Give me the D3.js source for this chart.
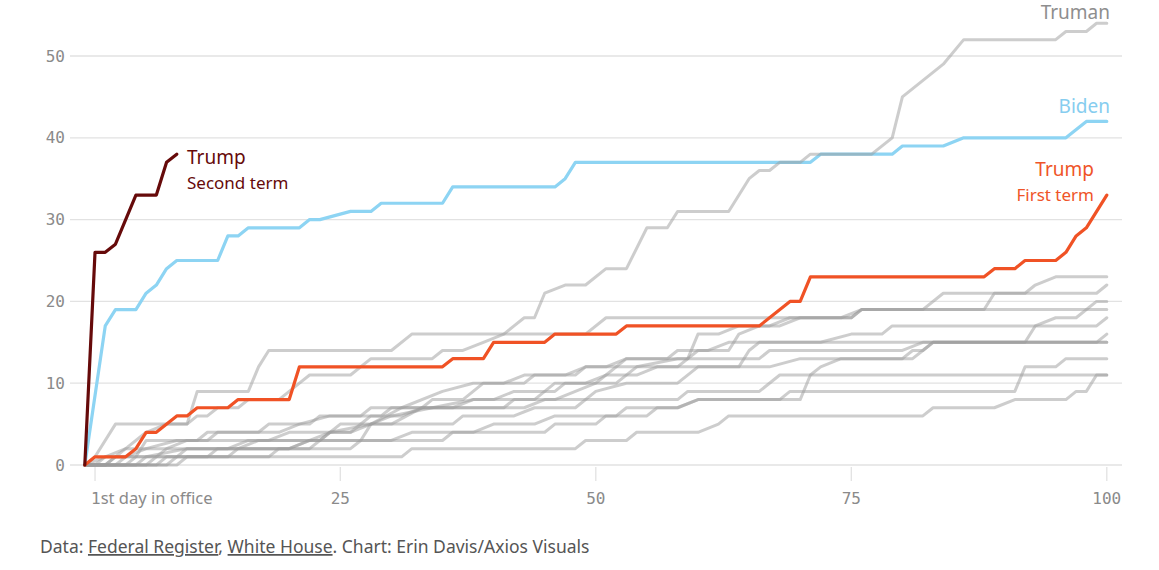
<!DOCTYPE html>
<html><head><meta charset="utf-8">
<script src="https://cdn.jsdelivr.net/npm/d3@7"></script>
<style>
body{margin:0;background:#fff;}
svg{display:block}
</style>
</head><body>
<svg id="chart" width="1159" height="570"></svg>
<script>
// ---- data: [day in office, cumulative executive orders] ----
const yTicks = [0, 10, 20, 30, 40, 50];
const xTicks = [1, 25, 50, 75, 100];
const xTickLabels = ["1st day in office", "25", "50", "75", "100"];

const truman = [[0,0],[2,1],[4,2],[6,4],[8,5],[10,5],[11,6],[12,6],[13,7],[15,7],[16,8],[19,8],[20,9],[21,10],[22,11],[26,11],[28,13],[34,13],[35,14],[37,14],[39,15],[41,16],[42,17],[43,18],[44,18],[45,21],[47,22],[49,22],[51,24],[53,24],[55,29],[57,29],[58,31],[63,31],[65,35],[66,36],[67,36],[68,37],[70,37],[71,38],[77,38],[79,40],[80,45],[84,49],[86,52],[95,52],[96,53],[98,53],[99,54],[100,54]];
const otherA = [[0,0],[1,1],[3,5],[10,5],[11,9],[16,9],[17,12],[18,14],[30,14],[32,16],[49,16],[51,18],[75,18],[76,19],[82,19],[84,21],[92,21],[93,22],[95,23],[100,23]];
const otherB = [[0,0],[2,0],[3,1],[7,1],[8,2],[20,2],[22,3],[27,3],[28,5],[30,6],[34,7],[38,8],[44,8],[46,10],[52,10],[54,12],[58,13],[59,13],[60,16],[62,16],[64,17],[67,17],[69,18],[74,18],[76,19],[88,19],[89,21],[99,21],[100,22]];
const otherC = [[0,0],[4,0],[5,1],[9,1],[10,2],[14,2],[16,3],[23,3],[25,5],[30,5],[33,7],[41,7],[42,8],[46,8],[48,9],[50,10],[51,11],[52,12],[53,13],[57,13],[58,14],[61,14],[63,15],[92,15],[93,17],[95,18],[97,18],[99,20],[100,20]];
const otherD = [[0,0],[6,0],[7,1],[12,1],[13,2],[22,2],[24,4],[26,4],[28,5],[36,5],[37,6],[42,6],[44,7],[48,7],[50,9],[53,10],[58,10],[60,12],[64,12],[65,14],[66,15],[72,15],[75,16],[78,16],[79,17],[99,17],[100,18]];
const otherE = [[0,0],[3,0],[4,1],[6,2],[9,3],[11,3],[12,4],[19,4],[21,5],[24,6],[29,6],[30,7],[36,7],[38,8],[40,8],[42,9],[46,9],[47,10],[49,10],[51,11],[54,11],[56,12],[58,12],[60,14],[63,14],[64,16],[66,17],[68,17],[70,18],[75,18],[76,19],[100,19]];
const otherF = [[0,0],[5,0],[6,1],[10,2],[15,2],[17,3],[22,3],[24,4],[28,5],[31,7],[35,9],[38,10],[43,10],[44,11],[48,11],[49,12],[67,12],[70,13],[81,13],[82,14],[83,15],[99,15],[100,16]];
const otherG = [[0,0],[7,0],[8,1],[14,1],[15,2],[20,2],[22,3],[30,3],[32,4],[38,4],[40,5],[44,5],[46,6],[52,6],[53,7],[58,7],[60,8],[70,8],[71,11],[72,12],[74,13],[80,13],[81,14],[82,14],[83,15],[100,15]];
const otherH = [[0,0],[9,0],[10,1],[18,1],[19,2],[26,2],[27,3],[35,3],[36,4],[45,4],[46,5],[50,5],[51,6],[55,6],[56,7],[58,7],[60,8],[68,8],[69,9],[91,9],[92,12],[95,12],[96,13],[100,13]];
const otherI = [[0,0],[2,0],[4,2],[8,2],[10,3],[18,3],[20,4],[26,4],[28,6],[31,6],[33,7],[43,7],[45,8],[58,8],[59,9],[66,9],[68,11],[100,11]];
const otherJ = [[0,0],[8,0],[9,1],[31,1],[32,2],[48,2],[49,3],[53,3],[54,4],[60,4],[62,5],[63,6],[82,6],[83,7],[89,7],[91,8],[96,8],[97,9],[98,9],[99,11],[100,11]];
const otherK = [[0,0],[1,0],[2,1],[5,1],[6,3],[12,3],[13,4],[17,4],[18,5],[22,5],[23,6],[27,6],[28,7],[33,7],[34,8],[37,8],[39,10],[41,10],[43,11],[47,11],[49,12],[51,12],[53,13],[66,13],[67,14],[80,14],[82,15],[100,15]];
const biden = [[0,0],[2,17],[3,19],[5,19],[6,21],[7,22],[8,24],[9,25],[13,25],[14,28],[15,28],[16,29],[21,29],[22,30],[23,30],[26,31],[28,31],[29,32],[35,32],[36,34],[46,34],[47,35],[48,37],[71,37],[72,38],[79,38],[80,39],[84,39],[86,40],[96,40],[98,42],[100,42]];
const trumpFirst = [[0,0],[1,1],[4,1],[5,2],[6,4],[7,4],[9,6],[10,6],[11,7],[14,7],[15,8],[20,8],[21,12],[35,12],[36,13],[39,13],[40,15],[45,15],[46,16],[52,16],[53,17],[66,17],[69,20],[70,20],[71,23],[88,23],[89,24],[91,24],[92,25],[95,25],[96,26],[97,28],[98,29],[100,33]];
const trumpSecond = [[0,0],[1,26],[2,26],[3,27],[5,33],[7,33],[8,37],[9,38]];

const grayData = [truman, otherA, otherB, otherC, otherD, otherE, otherF, otherG, otherH, otherI, otherJ, otherK];

// ---- layout ----
const svg = d3.select("#chart");
const x = d3.scaleLinear().domain([0, 100]).range([84.8, 1106.8]);
const y = d3.scaleLinear().domain([0, 50]).range([465, 56]);
const monoFont = "'DejaVu Sans Mono', monospace";
const sansFont = "'Noto Sans', sans-serif";

// gridlines
svg.append("g").selectAll("line").data(yTicks).join("line")
  .attr("x1", 70).attr("x2", 1122)
  .attr("y1", d => y(d)).attr("y2", d => y(d))
  .attr("stroke", "#e2e2e2").attr("stroke-width", 1.3);

// y labels
svg.append("g").selectAll("text").data(yTicks).join("text")
  .attr("x", 65).attr("y", d => y(d)).attr("dy", "0.35em")
  .attr("text-anchor", "end")
  .attr("font-family", monoFont).attr("font-size", 16).attr("fill", "#8a8a8a")
  .text(d => d);

// x ticks
svg.append("g").selectAll("line").data(xTicks).join("line")
  .attr("x1", d => x(d)).attr("x2", d => x(d))
  .attr("y1", 467).attr("y2", 481)
  .attr("stroke", "#e2e2e2").attr("stroke-width", 1.3);

const xl = svg.append("g").selectAll("text").data(xTicks).join("text")
  .attr("x", (d, i) => i === 0 ? x(d) - 4 : x(d))
  .attr("y", 504)
  .attr("text-anchor", (d, i) => i === 0 ? "start" : "middle")
  .attr("font-size", 16).attr("fill", "#8a8a8a");
xl.each(function(d, i) {
  const t = d3.select(this);
  const lab = xTickLabels[i];
  if (i === 0) {
    t.append("tspan").attr("font-family", monoFont).text(lab.slice(0, 1));
    t.append("tspan").attr("font-family", sansFont).attr("font-size", 16.5).text(lab.slice(1));
  } else {
    t.attr("font-family", monoFont).text(lab);
  }
});

const line = d3.line().x(d => x(d[0])).y(d => y(d[1]));

// Biden under gray
svg.append("path").datum(biden).attr("d", line)
  .attr("fill", "none").attr("stroke", "#8dd4f3").attr("stroke-width", 3.2)
  .attr("stroke-linejoin", "round").attr("stroke-linecap", "round");

svg.append("g").selectAll("path").data(grayData).join("path")
  .attr("d", line).attr("fill", "none")
  .attr("stroke", "#9c9c9c").attr("stroke-opacity", 0.5)
  .attr("stroke-width", 3)
  .attr("stroke-linejoin", "round").attr("stroke-linecap", "round");

svg.append("path").datum(trumpFirst).attr("d", line)
  .attr("fill", "none").attr("stroke", "#f05225").attr("stroke-width", 3.2)
  .attr("stroke-linejoin", "round").attr("stroke-linecap", "round");

svg.append("path").datum(trumpSecond).attr("d", line)
  .attr("fill", "none").attr("stroke", "#660a0a").attr("stroke-width", 3.2)
  .attr("stroke-linejoin", "round").attr("stroke-linecap", "round");

// series labels
function label(px, py, txt, size, color, anchor) {
  svg.append("text").attr("x", px).attr("y", py)
    .attr("text-anchor", anchor).attr("font-family", sansFont)
    .attr("font-size", size).attr("fill", color).text(txt);
}
label(187, 164, "Trump", 19, "#660a0a", "start");
label(187, 189, "Second term", 17, "#660a0a", "start");
label(1110, 19, "Truman", 19, "#8e8e8e", "end");
label(1110, 113, "Biden", 19, "#86cdef", "end");
label(1094, 176, "Trump", 19, "#ef5428", "end");
label(1094, 201, "First term", 17, "#ef5428", "end");

// footer
const f = svg.append("text").attr("x", 40).attr("y", 553)
  .attr("font-family", sansFont).attr("font-size", 17.5).attr("fill", "#555");
f.append("tspan").text("Data: ");
f.append("tspan").style("text-decoration", "underline").text("Federal Register");
f.append("tspan").text(", ");
f.append("tspan").style("text-decoration", "underline").text("White House");
f.append("tspan").text(". Chart: Erin Davis/Axios Visuals");
</script>
</body></html>
